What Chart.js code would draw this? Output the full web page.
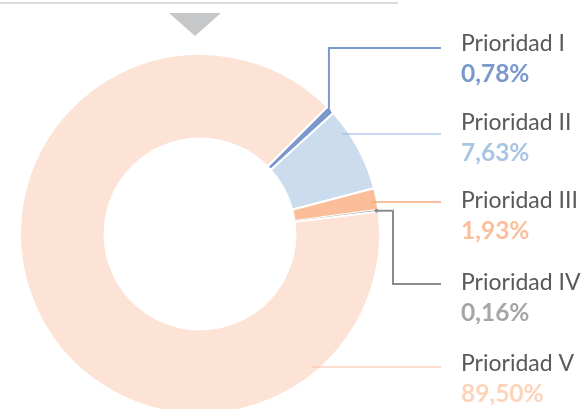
<!DOCTYPE html>
<html>
<head>
<meta charset="utf-8">
<script src="https://cdn.jsdelivr.net/npm/chart.js@4.4.0/dist/chart.umd.min.js"></script>
<style>
  html, body { margin: 0; padding: 0; background: #fff; overflow: hidden; }
  #wrap { position: relative; width: 584px; height: 418px; }
</style>
</head>
<body>
<div id="wrap"><canvas id="myChart"></canvas></div>
<script>
// data
const categories = ['Prioridad I', 'Prioridad II', 'Prioridad III', 'Prioridad IV', 'Prioridad V'];
const shares = [0.78, 7.63, 1.93, 0.16, 89.50];

const sliceColors = ['#7b97cb', '#cbdcee', '#fbbe99', '#7f7f7f', '#fce3d6'];
const labelColors = ['#7b98cc', '#a9c5e4', '#fbbf9b', '#a5a6a8', '#fdd3b9'];
const lineColors = ['#7b97cb', 'rgba(160,190,225,0.8)', '#f8a97c', '#8c8c8c', 'rgba(252,200,170,0.8)'];

// label layout (right column)
const textX = 461;
const lineEndX = 441;
const nameY = [51, 130, 208, 290, 371];
const leaderY = [48, 134, 202, 284, 367];
const elbowX = 393;

const fmt = v => v.toFixed(2).replace('.', ',') + '%';

// top rule + triangle marker
const decor = {
  id: 'decor',
  beforeDraw(chart) {
    const ctx = chart.ctx;
    ctx.save();
    ctx.strokeStyle = '#cfcfcf';
    ctx.lineWidth = 1.5;
    ctx.beginPath();
    ctx.moveTo(0, 3);
    ctx.lineTo(398, 3);
    ctx.stroke();
    ctx.fillStyle = '#c6c7c9';
    ctx.beginPath();
    ctx.moveTo(169, 13);
    ctx.lineTo(221, 13);
    ctx.lineTo(195, 36);
    ctx.closePath();
    ctx.fill();
    ctx.restore();
  }
};

// leader lines and labels
const leaders = {
  id: 'leaders',
  afterDatasetsDraw(chart) {
    const ctx = chart.ctx;
    const meta = chart.getDatasetMeta(0);
    ctx.save();
    meta.data.forEach((arc, i) => {
      const p = arc.getProps(['x', 'y', 'startAngle', 'endAngle', 'outerRadius'], true);
      const mid = (p.startAngle + p.endAngle) / 2;
      const ly = leaderY[i];
      ctx.strokeStyle = lineColors[i];
      ctx.fillStyle = lineColors[i];
      ctx.beginPath();
      if (i === 0 || i === 3) {
        const r = p.outerRadius - 2;
        const px = p.x + Math.cos(mid) * r;
        const py = p.y + Math.sin(mid) * r;
        ctx.lineWidth = 2;
        ctx.moveTo(px, py);
        if (i === 0) {
          ctx.lineTo(px, ly);
        } else {
          ctx.lineTo(elbowX, py);
          ctx.lineTo(elbowX, ly);
        }
        ctx.lineTo(lineEndX, ly);
        ctx.stroke();
        ctx.beginPath();
        ctx.arc(px, py, 2, 0, Math.PI * 2);
        ctx.fill();
      } else {
        const r = p.outerRadius - 6;
        const dy = ly - p.y;
        const sx = p.x + Math.sqrt(r * r - dy * dy);
        ctx.lineWidth = 1.5;
        ctx.moveTo(sx, ly);
        ctx.lineTo(lineEndX, ly);
        ctx.stroke();
      }

      ctx.textAlign = 'left';
      ctx.textBaseline = 'alphabetic';
      ctx.font = '23px Lato';
      ctx.fillStyle = '#595959';
      ctx.fillText(categories[i], textX, nameY[i]);
      ctx.font = 'bold 24.5px Lato';
      ctx.fillStyle = labelColors[i];
      ctx.fillText(fmt(shares[i]), textX, nameY[i] + 31);
    });
    ctx.restore();
  }
};

const ctx = document.getElementById('myChart');
new Chart(ctx, {
  type: 'doughnut',
  data: {
    labels: categories,
    datasets: [{
      data: shares,
      backgroundColor: sliceColors,
      borderColor: '#ffffff',
      borderWidth: [2, 2, 2, 0.5, 2],
      hoverOffset: 0
    }]
  },
  options: {
    responsive: true,
    maintainAspectRatio: false,
    animation: false,
    rotation: 45,
    cutout: '53%',
    layout: {
      padding: { left: 19, top: 53, right: 203, bottom: 3 }
    },
    plugins: {
      legend: { display: false },
      tooltip: { enabled: false }
    }
  },
  plugins: [decor, leaders]
});
</script>
</body>
</html>
